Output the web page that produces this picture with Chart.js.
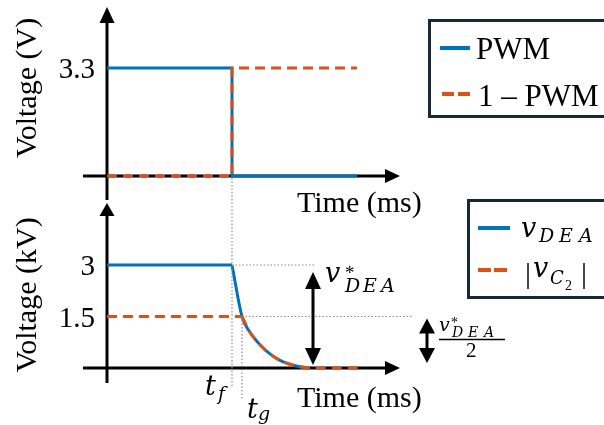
<!DOCTYPE html>
<html>
<head>
<meta charset="utf-8">
<script src="https://cdn.jsdelivr.net/npm/chart.js@4.4.1/dist/chart.umd.min.js"></script>
<style>
  html, body { margin: 0; padding: 0; background: #fff; }
  #wrap { position: relative; width: 604px; height: 425px; overflow: hidden; }
  #wrap canvas { position: absolute; left: 0; top: 0; }
</style>
</head>
<body>
<div id="wrap">
  <canvas id="pwmChart" width="604" height="425"></canvas>
  <canvas id="deaChart" width="604" height="425"></canvas>
</div>
<script>
// Gate signals (V) vs time (ms)
const pwmTime = [0, 5, 5, 10];
const pwmVolts = [3.3, 3.3, 0, 0];
const invTime = [0, 5, 5, 10];
const invVolts = [0, 0, 3.3, 3.3];
const pwmTicks = [3.3];

// DEA and C2 voltages (kV) vs time (ms)
const tF = 5;
const tG = 5.4;
const deaHoldTime = [0, tF];
const deaHoldKv = [3, 3];
const deaFallTime = [5, 5.4, 5.72, 6.12, 6.52, 6.92, 7.32, 7.72, 8.12];
const deaFallKv = [3, 1.5, 1.04, 0.68, 0.41, 0.22, 0.11, 0.035, 0];
const c2HoldTime = [0, tG];
const c2HoldKv = [1.5, 1.5];
const c2FallTime = [5.4, 5.72, 6.12, 6.52, 6.92, 7.32, 7.72, 8.12, 10.25];
const c2FallKv = [1.5, 1.04, 0.68, 0.41, 0.22, 0.11, 0.035, 0, 0];
const deaTicks = [3, 1.5];

const BLUE = '#0072BD';
const ORANGE = '#D95319';
const INK = '#000';
const BOX = '#17283a';
const SERIF = '"Liberation Serif", "Times New Roman", serif';
const MATH = '"DejaVu Serif", "Liberation Serif", serif';

const pts = (xs, ys) => xs.map((x, i) => ({ x, y: ys[i] }));

function arrowHead(ctx, x, y, dx, dy, len, half) {
  const bx = x - dx * len, by = y - dy * len;
  ctx.beginPath();
  ctx.moveTo(x, y);
  ctx.lineTo(bx - dy * half, by + dx * half);
  ctx.lineTo(bx + dy * half, by - dx * half);
  ctx.closePath();
  ctx.fill();
}

function line(ctx, x1, y1, x2, y2) {
  ctx.beginPath();
  ctx.moveTo(x1, y1);
  ctx.lineTo(x2, y2);
  ctx.stroke();
}

function text(ctx, s, x, y, font, align) {
  ctx.font = font;
  ctx.textAlign = align || 'left';
  ctx.textBaseline = 'alphabetic';
  ctx.fillText(s, x, y);
}

// italic capitals set with math-style spacing
function spaced(ctx, s, x, y, font, step) {
  ctx.font = font;
  ctx.textAlign = 'left';
  ctx.textBaseline = 'alphabetic';
  [...s].forEach((ch, i) => ctx.fillText(ch, x + i * step, y));
}

function doubleArrow(ctx, x, yTop, yBot, len, half) {
  ctx.strokeStyle = INK;
  ctx.fillStyle = INK;
  ctx.lineWidth = 3;
  ctx.setLineDash([]);
  line(ctx, x, yTop + len - 2, x, yBot - len + 2);
  arrowHead(ctx, x, yTop, 0, -1, len, half);
  arrowHead(ctx, x, yBot, 0, 1, len, half);
}

function drawAxes(chart, yTail, yTipGap, yHead) {
  const ctx = chart.ctx;
  const x0 = chart.scales.x.getPixelForValue(0);
  const y0 = chart.scales.y.getPixelForValue(0);
  ctx.save();
  ctx.strokeStyle = INK;
  ctx.fillStyle = INK;
  ctx.lineWidth = 3;
  line(ctx, x0 - 24, y0, 388, y0);
  arrowHead(ctx, 400, y0, 1, 0, 15, 7);
  line(ctx, x0, y0 + yTail, x0, yTipGap + yHead - 2);
  arrowHead(ctx, x0, yTipGap, 0, -1, yHead, 7.5);
  ctx.restore();
}

function yTickLabels(chart, ticks) {
  const ctx = chart.ctx;
  ctx.save();
  ctx.fillStyle = INK;
  ticks.forEach(v => {
    text(ctx, String(v), 95, chart.scales.y.getPixelForValue(v) + 10, '29px ' + SERIF, 'right');
  });
  ctx.restore();
}

function axisTitle(ctx, s, cy) {
  ctx.save();
  ctx.translate(36, cy);
  ctx.rotate(-Math.PI / 2);
  ctx.fillStyle = INK;
  text(ctx, s, 0, 0, '30px ' + SERIF, 'center');
  ctx.restore();
}

function legendBox(ctx, x, y, h) {
  ctx.save();
  ctx.strokeStyle = BOX;
  ctx.lineWidth = 3;
  ctx.setLineDash([]);
  ctx.strokeRect(x, y, 200, h);
  ctx.restore();
}

function sample(ctx, color, dash, x1, x2, y) {
  ctx.save();
  ctx.strokeStyle = color;
  ctx.lineWidth = 4;
  ctx.setLineDash(dash);
  line(ctx, x1, y, x2, y);
  ctx.restore();
}

const pwmDecor = {
  id: 'pwmDecor',
  beforeDatasetsDraw(chart) {
    drawAxes(chart, 24, 7, 16);
  },
  afterDatasetsDraw(chart) {
    const ctx = chart.ctx;
    yTickLabels(chart, pwmTicks);
    ctx.save();
    ctx.fillStyle = INK;
    axisTitle(ctx, 'Voltage (V)', 88);
    text(ctx, 'Time (ms)', 297, 212, '30px ' + SERIF);

    legendBox(ctx, 429.5, 20.5, 96);
    sample(ctx, BLUE, [], 440, 470, 48);
    sample(ctx, ORANGE, [12, 4], 442, 470, 94);
    ctx.fillStyle = INK;
    text(ctx, 'PWM', 476, 59, '31px ' + SERIF);
    text(ctx, '1 \u2013 PWM', 478, 106, '31px ' + SERIF);
    ctx.restore();
  }
};

const deaDecor = {
  id: 'deaDecor',
  beforeDatasetsDraw(chart) {
    drawAxes(chart, 15, 203, 13);
  },
  afterDatasetsDraw(chart) {
    const ctx = chart.ctx;
    const xs = chart.scales.x, ys = chart.scales.y;
    const xf = xs.getPixelForValue(tF), xg = xs.getPixelForValue(tG);
    const yFull = ys.getPixelForValue(3), yHalf = ys.getPixelForValue(1.5), y0 = ys.getPixelForValue(0);

    // guide lines for t_f, t_g and the two voltage levels
    ctx.save();
    ctx.strokeStyle = '#8a8a8a';
    ctx.lineWidth = 1.2;
    ctx.setLineDash([1.5, 2]);
    line(ctx, xf, 178, xf, 387);
    line(ctx, xg, yHalf, xg, 398);
    line(ctx, xf, yFull, xs.getPixelForValue(8.3), yFull);
    line(ctx, xg, yHalf, 412, yHalf);
    ctx.restore();

    ctx.save();
    yTickLabels(chart, deaTicks);
    ctx.fillStyle = INK;
    axisTitle(ctx, 'Voltage (kV)', 295);
    text(ctx, 'Time (ms)', 297, 407, '30px ' + SERIF);

    // t_f and t_g markers
    text(ctx, 't', 205, 395, 'italic 27px ' + MATH);
    text(ctx, 'f', 218, 400, 'italic 19px ' + MATH);
    text(ctx, 't', 247, 418, 'italic 27px ' + MATH);
    text(ctx, 'g', 258, 420, 'italic 19px ' + MATH);

    // full swing v*_DEA
    doubleArrow(ctx, xs.getPixelForValue(8.24), yFull + 7, y0 - 3, 17, 8);
    ctx.fillStyle = INK;
    text(ctx, 'v', 325, 282, 'italic 27px ' + MATH);
    text(ctx, '*', 345, 279, '19px ' + SERIF);
    spaced(ctx, 'DEA', 345, 292, 'italic 19px ' + MATH, 18);

    // half swing v*_DEA / 2
    doubleArrow(ctx, 427, yHalf + 2, y0 - 5, 15, 8);
    ctx.fillStyle = INK;
    text(ctx, 'v', 439, 331, 'italic 19px ' + MATH);
    text(ctx, '*', 451, 327, '14px ' + SERIF);
    spaced(ctx, 'DEA', 452, 337, 'italic 14px ' + MATH, 16);
    ctx.strokeStyle = INK;
    ctx.lineWidth = 1.5;
    line(ctx, 439, 339.5, 505, 339.5);
    text(ctx, '2', 466, 357, '21px ' + SERIF);

    // legend
    legendBox(ctx, 468.5, 200.5, 97);
    sample(ctx, BLUE, [], 478, 510, 228);
    sample(ctx, ORANGE, [13, 3], 478, 508, 270);
    ctx.fillStyle = INK;
    text(ctx, 'v', 521, 237, 'italic 27px ' + MATH);
    spaced(ctx, 'DEA', 539, 242, 'italic 19px ' + MATH, 20);
    text(ctx, '|', 525, 283, '30px ' + SERIF);
    text(ctx, 'v', 533, 277, 'italic 27px ' + MATH);
    text(ctx, 'C', 550, 284, 'italic 18px ' + MATH);
    text(ctx, '2', 565, 290, '14px ' + SERIF);
    text(ctx, '|', 581, 283, '30px ' + SERIF);
    ctx.restore();
  }
};

function baseOptions(pad, yMax) {
  return {
    responsive: false,
    animation: false,
    events: [],
    layout: { padding: pad },
    scales: {
      x: { type: 'linear', min: 0, max: 12, display: false },
      y: { type: 'linear', min: 0, max: yMax, display: false }
    },
    plugins: { legend: { display: false }, tooltip: { enabled: false } },
    elements: { point: { radius: 0 } }
  };
}

function lineSet(data, color, dashed, order, extra) {
  return Object.assign({
    data,
    borderColor: color,
    borderWidth: 3,
    borderDash: dashed ? [10, 6] : [],
    tension: 0,
    fill: false,
    clip: false,
    order
  }, extra || {});
}

new Chart(document.getElementById('pwmChart'), {
  type: 'line',
  data: {
    datasets: [
      lineSet(pts(invTime, invVolts), ORANGE, true, 1),
      lineSet(pts(pwmTime, pwmVolts), BLUE, false, 2)
    ]
  },
  options: baseOptions({ left: 107, right: 197, top: 68, bottom: 249 }, 3.3),
  plugins: [pwmDecor]
});

new Chart(document.getElementById('deaChart'), {
  type: 'line',
  data: {
    datasets: [
      lineSet(pts(c2HoldTime, c2HoldKv), ORANGE, true, 1),
      lineSet(pts(c2FallTime, c2FallKv), ORANGE, true, 1, { cubicInterpolationMode: 'monotone' }),
      lineSet(pts(deaHoldTime, deaHoldKv), BLUE, false, 2),
      lineSet(pts(deaFallTime, deaFallKv), BLUE, false, 2, { cubicInterpolationMode: 'monotone' })
    ]
  },
  options: baseOptions({ left: 107, right: 197, top: 265, bottom: 57 }, 3),
  plugins: [deaDecor]
});
</script>
</body>
</html>
